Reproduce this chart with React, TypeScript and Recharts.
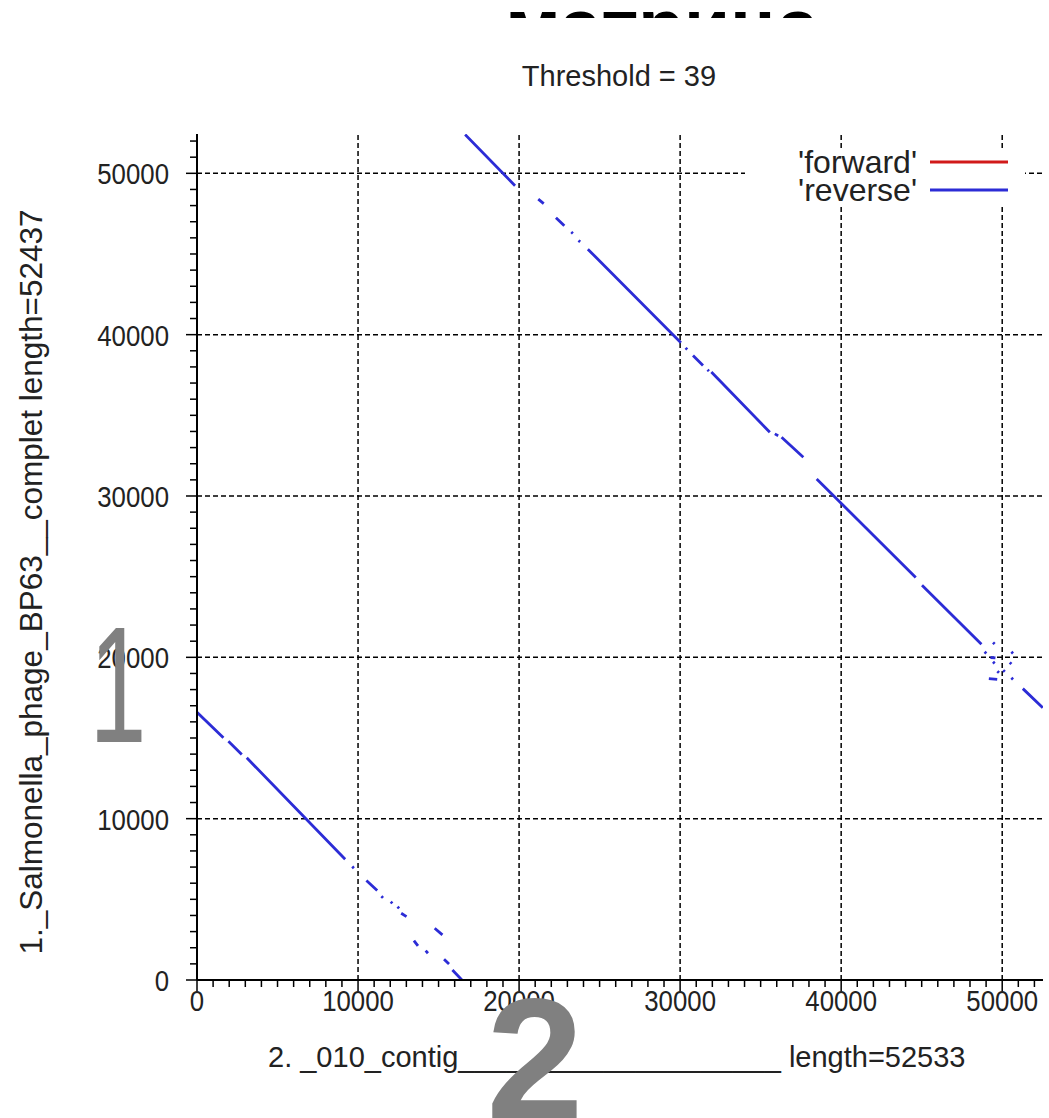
import { LineChart, Line, XAxis, YAxis, ReferenceLine } from 'recharts'

const FONT = '"Liberation Sans", Arial, Helvetica, sans-serif'

const X_LENGTH = 52533
const Y_LENGTH = 52437

const majorTicks = [0, 10000, 20000, 30000, 40000, 50000]
const gridValues = [10000, 20000, 30000, 40000, 50000]
const minorTicks = Array.from({ length: 53 }, (_, i) => i * 1000)

// dot-plot hits, each one [x1, y1, x2, y2]
const upperDiagonal = [
  [16650, 52400, 19750, 49230],
  [21190, 48400, 21530, 48120],
  [22290, 47250, 22810, 46750],
  [23240, 46360, 23340, 46270],
  [23690, 45840, 23790, 45750],
  [24270, 45300, 30050, 39500],
  [30340, 39180, 30440, 39080],
  [30800, 38710, 31420, 38090],
  [31700, 37830, 31790, 37740],
  [31940, 37680, 35570, 33950],
  [35880, 33850, 36090, 33740],
  [36300, 33640, 37650, 32400],
  [38480, 31060, 44630, 24950],
  [45020, 24470, 48710, 20810],
]

const junctionDots = [
  [49430, 20920, 49530, 20820],
  [48910, 20340, 49010, 20240],
  [50570, 20340, 50670, 20240],
  [49270, 19990, 49580, 19960],
  [49430, 19720, 49530, 19620],
  [50470, 19680, 50570, 19580],
  [49700, 19140, 49800, 19040],
  [50060, 19200, 50160, 19100],
  [49170, 18680, 49690, 18630],
  [50570, 18730, 50670, 18630],
  [51280, 18060, 52520, 16880],
]

const lowerDiagonal = [
  [0, 16600, 1640, 15010],
  [1950, 14800, 2780, 13980],
  [3090, 13770, 9200, 7480],
  [9640, 7030, 9740, 6930],
  [10520, 6170, 11190, 5550],
  [11450, 5190, 11550, 5090],
  [12030, 4850, 12130, 4750],
  [12450, 4540, 12550, 4440],
  [12680, 4140, 13010, 3930],
  [14760, 3210, 15240, 2800],
  [13470, 2440, 13720, 2110],
  [14200, 1820, 14340, 1660],
  [15340, 1290, 15650, 990],
  [15860, 620, 16450, 0],
]

const forwardSegments: number[][] = []

const legendItems = [
  { name: "'forward'", color: '#d11a1a' },
  { name: "'reverse'", color: '#2c2cd6' },
]

// break the line between hits with a null point
const toPoints = (segs: number[][]) => {
  const pts: { x: number; y: number | null }[] = []
  segs.forEach(([x1, y1, x2, y2]) => {
    pts.push({ x: x1, y: y1 }, { x: x2, y: y2 }, { x: x2, y: null })
  })
  return pts
}

const reversePoints = toPoints([...upperDiagonal, ...junctionDots, ...lowerDiagonal])
const forwardPoints = toPoints(forwardSegments)

const isMajor = (v: number) => majorTicks.includes(v)

// gnuplot's labels are narrow, squeeze them a bit
const TickLabel = ({ x, y, anchor, value }: { x: number; y: number; anchor: string; value: number }) => (
  <text
    transform={`translate(${x},${y}) scale(0.86,1)`}
    textAnchor={anchor}
    fontSize={30}
    fill="#222"
    fontFamily={FONT}
  >
    {value}
  </text>
)

const BottomTick = ({ x, y, payload }: any) => (
  <g>
    <line x1={x} x2={x} y1={y} y2={y + (isMajor(payload.value) ? 11 : 7)} stroke="#000" strokeWidth={1.5} />
    {isMajor(payload.value) && <TickLabel x={x} y={y + 31} anchor="middle" value={payload.value} />}
  </g>
)

const TopTick = ({ x, y, payload }: any) => (
  <line x1={x} x2={x} y1={y} y2={y - (isMajor(payload.value) ? 11 : 7)} stroke="#000" strokeWidth={1.5} />
)

const LeftTick = ({ x, y, payload }: any) => (
  <g>
    <line x1={x} x2={x - (isMajor(payload.value) ? 11 : 7)} y1={y} y2={y} stroke="#000" strokeWidth={1.5} />
    {isMajor(payload.value) && <TickLabel x={x - 28} y={y + 11} anchor="end" value={payload.value} />}
  </g>
)

const RightTick = ({ x, y, payload }: any) => (
  <line x1={x} x2={x + (isMajor(payload.value) ? 11 : 7)} y1={y} y2={y} stroke="#000" strokeWidth={1.5} />
)

export default function App() {
  return (
    <div style={{ position: 'absolute', left: 0, top: 0, width: 1049, height: 1118, background: '#fff', overflow: 'hidden' }}>
      <LineChart width={1049} height={1118} margin={{ top: 134, right: 6, bottom: 0, left: 0 }}>
        <XAxis
          dataKey="x"
          type="number"
          domain={[0, X_LENGTH]}
          ticks={minorTicks}
          interval={0}
          tickSize={0}
          tickMargin={0}
          height={138}
          tick={<BottomTick />}
          axisLine={{ stroke: '#000', strokeWidth: 2 }}
          allowDataOverflow
        />
        <XAxis
          xAxisId="top"
          orientation="top"
          dataKey="x"
          type="number"
          domain={[0, X_LENGTH]}
          ticks={minorTicks}
          interval={0}
          tickSize={0}
          tickMargin={0}
          height={0}
          tick={<TopTick />}
          axisLine={{ stroke: '#000', strokeWidth: 2 }}
          allowDataOverflow
        />
        <YAxis
          type="number"
          domain={[0, Y_LENGTH]}
          ticks={minorTicks}
          interval={0}
          tickSize={0}
          tickMargin={0}
          width={197}
          tick={<LeftTick />}
          axisLine={{ stroke: '#000', strokeWidth: 2 }}
          allowDataOverflow
        />
        <YAxis
          yAxisId="right"
          orientation="right"
          type="number"
          domain={[0, Y_LENGTH]}
          ticks={minorTicks}
          interval={0}
          tickSize={0}
          tickMargin={0}
          width={0}
          tick={<RightTick />}
          axisLine={{ stroke: '#000', strokeWidth: 2 }}
          allowDataOverflow
        />

        {gridValues.map((v) => (
          <ReferenceLine key={'gx' + v} x={v} stroke="#000" strokeWidth={1.5} strokeDasharray="5 3" />
        ))}
        {gridValues.map((v) => (
          <ReferenceLine key={'gy' + v} y={v} stroke="#000" strokeWidth={1.5} strokeDasharray="5 3" />
        ))}

        <Line
          data={forwardPoints}
          dataKey="y"
          name="forward"
          stroke={legendItems[0].color}
          strokeWidth={2.5}
          dot={false}
          connectNulls={false}
          isAnimationActive={false}
        />
        <Line
          data={reversePoints}
          dataKey="y"
          name="reverse"
          stroke={legendItems[1].color}
          strokeWidth={2.8}
          dot={false}
          connectNulls={false}
          isAnimationActive={false}
        />
      </LineChart>

      {/* titles, legend and the slide numbers sit on top of the chart */}
      <svg
        width={1049}
        height={1118}
        style={{ position: 'absolute', left: 0, top: 0, pointerEvents: 'none' }}
        fontFamily={FONT}
      >
        <defs>
          <clipPath id="slideTitleClip">
            <rect x={0} y={0} width={1049} height={18} />
          </clipPath>
        </defs>
        <text x={662} y={51} textAnchor="middle" fontSize={75} fontWeight="bold" fill="#000" clipPath="url(#slideTitleClip)">
          матрица
        </text>

        <text x={619} y={86} textAnchor="middle" fontSize={29} fill="#222">
          Threshold = 39
        </text>

        <text transform="translate(42,582) rotate(-90)" textAnchor="middle" fontSize={31.5} fill="#222">
          1._Salmonella_phage_BP63__complet length=52437
        </text>
        <text x={268} y={1067} fontSize={29} fill="#222">
          2. _010_contig____________________ length=52533
        </text>

        <rect x={745} y={148} width={280} height={56} fill="#fff" />
        {legendItems.map((item, i) => (
          <g key={item.name}>
            <text x={917} y={173 + i * 28} textAnchor="end" fontSize={32} fill="#222">
              {item.name}
            </text>
            <line x1={930} x2={1008} y1={162 + i * 28} y2={162 + i * 28} stroke={item.color} strokeWidth={3} />
          </g>
        ))}

        <text transform="translate(118,742) scale(0.62,1)" textAnchor="middle" fontSize={165} fill="#808080">
          1
        </text>
        <text x={535} y={1120} textAnchor="middle" fontSize={175} fontWeight="bold" fill="#808080">
          2
        </text>
      </svg>
    </div>
  )
}
